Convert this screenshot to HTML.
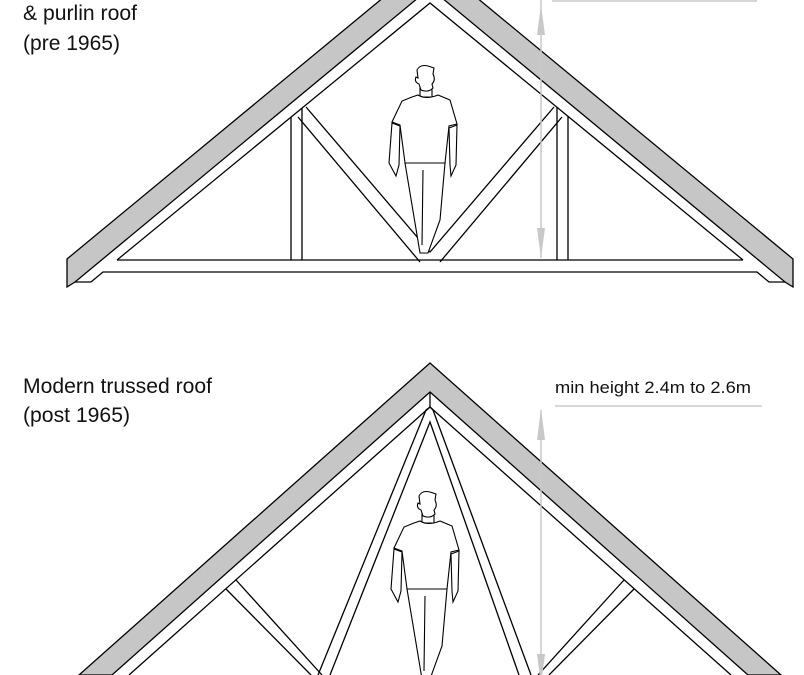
<!DOCTYPE html>
<html><head><meta charset="utf-8"><style>
html,body{margin:0;padding:0;background:#fff;width:804px;height:675px;overflow:hidden}
svg{display:block}
text{font-family:"Liberation Sans Narrow","Liberation Sans",sans-serif;fill:#111}
</style></head><body>
<svg width="804" height="675" viewBox="0 0 804 675" xmlns="http://www.w3.org/2000/svg">
<g stroke="#000" stroke-width="1.3" fill="none" stroke-linejoin="miter">
<polygon points="67,259 430,-41 793,259 793,287 785,282 430,-12 75,282 67,287" fill="#c6c6c6"/>
<polyline points="75,282 91,282 103,272 757,272 769,282 785,282"/>
<polyline points="117,260 430,3 743,260"/>
<line x1="117" y1="260" x2="743" y2="260"/>
<line x1="291" y1="117" x2="291" y2="260"/><line x1="302" y1="108" x2="302" y2="260"/>
<line x1="557" y1="107" x2="557" y2="260"/><line x1="568" y1="116" x2="568" y2="260"/>
<polyline points="306,107 430,252 554,107"/>
<polyline points="298,117 420,262"/><polyline points="562,117 440,262"/>
<polygon points="79,675 430,363 781,675 748,675 430,392 112,675" fill="#c6c6c6"/>
<polyline points="129,675 430,407 731,675"/>
<line x1="430" y1="392" x2="430" y2="407"/>
<polyline points="318,675 426,410 430,407 433,410 531,675"/>
<polyline points="330,675 430,422 519,675"/>
<line x1="236" y1="580" x2="322" y2="675"/><line x1="226" y1="589" x2="311" y2="675"/>
<line x1="624" y1="580" x2="538" y2="675"/><line x1="634" y1="589" x2="549" y2="675"/>
</g>
<g stroke="#c8c8c8" stroke-width="1.5" fill="#c8c8c8">
<line x1="541" y1="0" x2="541" y2="258"/>
<polygon points="541,5 537,35 545,35" stroke="none"/>
<polygon points="541,258 537,228 545,228" stroke="none"/>
<line x1="552" y1="1" x2="757" y2="1"/>
<line x1="541" y1="410" x2="541" y2="675"/>
<polygon points="541,408 537,440 545,440" stroke="none"/>
<polygon points="537,654 545,654 541,685" stroke="none"/>
<line x1="555" y1="406" x2="762" y2="406"/>
</g>
<g stroke="#000" stroke-width="1.1" fill="#fff">
<path d="M392,123 L389,163 L396,176 L399,165 L400,126 Z"/>
<path d="M457,125 L456,165 L451,176 L450,165 L449,128 Z"/>
<path d="M405,163 L420,253 L428,253 L440,220 L445,163 Z"/>
<path d="M423,170 L422,245" fill="none"/>
<path d="M420,88 L420,97 L432,97 L432,88 Z"/>
<path d="M412,97 L402,101 L392,122 L400,125 L405,163 L445,163 L449,126 L457,124 L450,100 L438,95 Q426,100 418,95 Z"/>
<path d="M419,84 Q414,82 416,77 L418,78 L417,70 Q420,64 428,66 L434,68 L433,74 Q436,80 432,84 L433,88 Q428,93 421,90 Z"/>
</g>
<g transform="translate(2,426)" stroke="#000" stroke-width="1.1" fill="#fff">
<path d="M392,123 L389,163 L396,176 L399,165 L400,126 Z"/>
<path d="M457,125 L456,165 L451,176 L450,165 L449,128 Z"/>
<path d="M405,163 L420,253 L428,253 L440,220 L445,163 Z"/>
<path d="M423,170 L422,245" fill="none"/>
<path d="M420,88 L420,97 L432,97 L432,88 Z"/>
<path d="M412,97 L402,101 L392,122 L400,125 L405,163 L445,163 L449,126 L457,124 L450,100 L438,95 Q426,100 418,95 Z"/>
<path d="M419,84 Q414,82 416,77 L418,78 L417,70 Q420,64 428,66 L434,68 L433,74 Q436,80 432,84 L433,88 Q428,93 421,90 Z"/>
</g>
<text x="23" y="20" font-size="21" textLength="114" lengthAdjust="spacingAndGlyphs">&amp; purlin roof</text>
<text x="23" y="50" font-size="21" textLength="97" lengthAdjust="spacingAndGlyphs">(pre 1965)</text>
<text x="23" y="393" font-size="21" textLength="189" lengthAdjust="spacingAndGlyphs">Modern trussed roof</text>
<text x="23" y="422" font-size="21" textLength="107" lengthAdjust="spacingAndGlyphs">(post 1965)</text>
<text x="555" y="393" font-size="17" textLength="196" lengthAdjust="spacingAndGlyphs">min height 2.4m to 2.6m</text>
</svg>
</body></html>
